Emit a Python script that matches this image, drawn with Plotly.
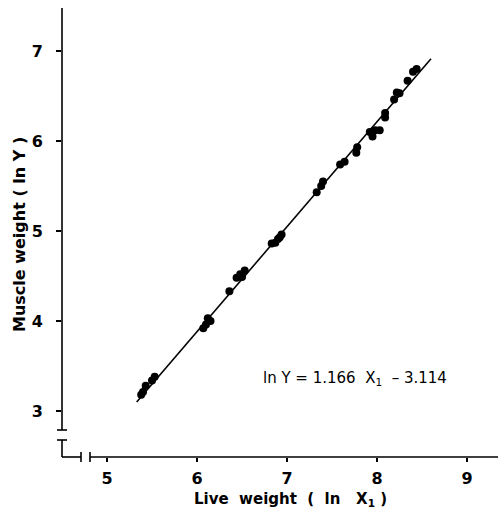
import plotly.graph_objects as go

# Data
ln_x = [5.38, 5.40, 5.43, 5.50, 5.53,
        6.07, 6.10, 6.12, 6.15, 6.36, 6.44, 6.48, 6.50, 6.53,
        6.83, 6.87, 6.90, 6.92, 6.94,
        7.33, 7.38, 7.40, 7.59, 7.64, 7.77, 7.78, 7.92, 7.95, 7.98, 8.03,
        8.09, 8.09, 8.19, 8.22, 8.25, 8.34, 8.40, 8.44]
ln_y = [3.18, 3.21, 3.28, 3.34, 3.38,
        3.92, 3.96, 4.03, 4.00, 4.33, 4.48, 4.52, 4.49, 4.56,
        4.86, 4.87, 4.91, 4.93, 4.96,
        5.43, 5.50, 5.55, 5.74, 5.77, 5.87, 5.93, 6.10, 6.05, 6.12, 6.12,
        6.31, 6.26, 6.46, 6.54, 6.53, 6.67, 6.77, 6.80]

slope = 1.166
intercept = -3.114
fit_x = [5.33, 8.6]
fit_y = [slope * v + intercept for v in fit_x]

x_ticks = [5, 6, 7, 8, 9]
y_ticks = [3, 4, 5, 6, 7]

FONT = "DejaVu Sans, sans-serif"
W, H = 498, 509
L, B = 62, 52
PW, PH = W - L, H - B


def px(xp):
    return (xp - L) / PW


def py(yp):
    return (H - B - yp) / PH


fig = go.Figure()
fig.add_trace(go.Scatter(x=fit_x, y=fit_y, mode="lines",
                         line=dict(color="black", width=1.6),
                         hoverinfo="skip", showlegend=False))
fig.add_trace(go.Scatter(x=ln_x, y=ln_y, mode="markers",
                         marker=dict(color="black", size=8),
                         showlegend=False))

line = dict(color="black", width=1.6)
shapes = [
    # y axis (upper part)
    dict(type="line", xref="paper", yref="paper", x0=px(62), x1=px(62), y0=py(8), y1=py(430), line=line),
    dict(type="line", xref="paper", yref="paper", x0=px(57), x1=px(67), y0=py(430), y1=py(430), line=line),
    # lower break piece
    dict(type="line", xref="paper", yref="paper", x0=px(57), x1=px(67), y0=py(440), y1=py(440), line=line),
    dict(type="line", xref="paper", yref="paper", x0=px(62), x1=px(62), y0=py(440), y1=py(457), line=line),
    dict(type="line", xref="paper", yref="paper", x0=px(62), x1=px(81), y0=py(457), y1=py(457), line=line),
    dict(type="line", xref="paper", yref="paper", x0=px(81), x1=px(81), y0=py(452), y1=py(462), line=line),
    # x axis
    dict(type="line", xref="paper", yref="paper", x0=px(90), x1=px(90), y0=py(452), y1=py(462), line=line),
    dict(type="line", xref="paper", yref="paper", x0=px(90), x1=px(498), y0=py(457), y1=py(457), line=line),
]

tickfont = dict(size=16, family=FONT, weight=600)
fig.update_layout(
    width=W, height=H,
    margin=dict(l=L, r=0, t=0, b=B),
    plot_bgcolor="white", paper_bgcolor="white",
    font=dict(family=FONT, color="black", size=15),
    shapes=shapes,
    xaxis=dict(range=[4.5, 5 + (W - 107) / 90], tickvals=x_ticks,
               ticks="outside", ticklen=4, tickwidth=1.5, tickcolor="black",
               showgrid=False, zeroline=False, showline=False,
               ticklabelstandoff=3, tickfont=tickfont),
    yaxis=dict(range=[3 - 46 / 90, 3 + 411 / 90], tickvals=y_ticks,
               ticks="outside", ticklen=5, tickwidth=1.5, tickcolor="black",
               showgrid=False, zeroline=False, showline=False,
               ticklabelstandoff=10, tickfont=tickfont),
    annotations=[
        dict(text="Live  weight  (  ln   X<sub>1</sub> )", xref="paper", yref="paper",
             x=px(290), y=py(499), xanchor="center", yanchor="middle", showarrow=False,
             font=dict(size=15, family=FONT, weight=600)),
        dict(text="Muscle weight ( ln Y )", xref="paper", yref="paper",
             x=px(19), y=py(235), xanchor="center", yanchor="middle",
             textangle=-90, showarrow=False,
             font=dict(size=16, family=FONT, weight=600)),
        dict(text="ln Y = 1.166  X<sub>1</sub>  \u2013 3.114", xref="paper", yref="paper",
             x=px(355), y=py(378), xanchor="center", yanchor="middle", showarrow=False,
             font=dict(size=15, family=FONT)),
    ],
)

fig.write_html("out.html", config={"displayModeBar": False},
               post_script="document.body.style.margin='0';")
